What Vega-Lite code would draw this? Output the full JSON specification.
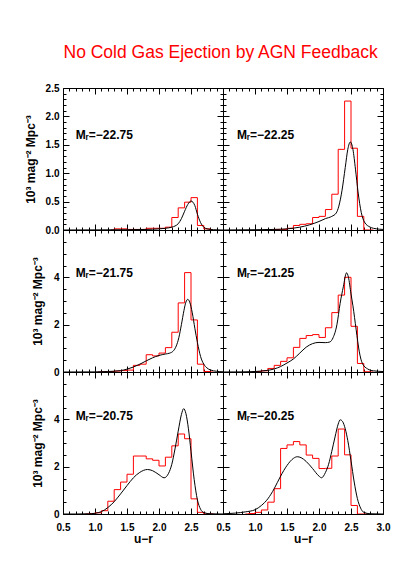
{
"$schema":"https://vega.github.io/schema/vega-lite/v6.json",
"autosize":{"type":"pad"},
"padding":{"left":23,"top":44,"right":5,"bottom":5},
"title":{"text":"No Cold Gas Ejection by AGN Feedback","color":"#ff0000","font":"Liberation Sans","fontSize":17.5,"fontWeight":"normal","anchor":"start","frame":"bounds","dx":40,"baseline":"alphabetic","offset":7},
"datasets":{
"h":[
{"p":1,"x":1.25,"y":0},{"p":1,"x":1.35,"y":0.02},{"p":1,"x":1.45,"y":0.02},{"p":1,"x":1.55,"y":0.01},{"p":1,"x":1.65,"y":0.01},{"p":1,"x":1.75,"y":0.01},{"p":1,"x":1.85,"y":0.03},{"p":1,"x":1.95,"y":0.03},{"p":1,"x":2.05,"y":0.03},{"p":1,"x":2.15,"y":0.05},{"p":1,"x":2.25,"y":0.22},{"p":1,"x":2.35,"y":0.39},{"p":1,"x":2.45,"y":0.49},{"p":1,"x":2.55,"y":0.57},{"p":1,"x":2.65,"y":0.08},{"p":1,"x":2.75,"y":0.02},{"p":1,"x":2.85,"y":0},
{"p":2,"x":1.15,"y":0},{"p":2,"x":1.25,"y":0.005},{"p":2,"x":1.35,"y":0.01},{"p":2,"x":1.45,"y":0.01},{"p":2,"x":1.55,"y":0.03},{"p":2,"x":1.65,"y":0.08},{"p":2,"x":1.75,"y":0.1},{"p":2,"x":1.85,"y":0.11},{"p":2,"x":1.95,"y":0.22},{"p":2,"x":2.05,"y":0.24},{"p":2,"x":2.15,"y":0.36},{"p":2,"x":2.25,"y":0.63},{"p":2,"x":2.35,"y":1.42},{"p":2,"x":2.45,"y":2.27},{"p":2,"x":2.55,"y":1.44},{"p":2,"x":2.65,"y":0.24},{"p":2,"x":2.75,"y":0},{"p":2,"x":2.85,"y":0},
{"p":3,"x":1.05,"y":0},{"p":3,"x":1.15,"y":0.01},{"p":3,"x":1.25,"y":0.02},{"p":3,"x":1.35,"y":0.04},{"p":3,"x":1.45,"y":0.06},{"p":3,"x":1.55,"y":0.08},{"p":3,"x":1.65,"y":0.28},{"p":3,"x":1.75,"y":0.33},{"p":3,"x":1.85,"y":0.73},{"p":3,"x":1.95,"y":0.68},{"p":3,"x":2.05,"y":0.8},{"p":3,"x":2.15,"y":1.03},{"p":3,"x":2.25,"y":1.68},{"p":3,"x":2.35,"y":2.92},{"p":3,"x":2.45,"y":4.2},{"p":3,"x":2.55,"y":2.2},{"p":3,"x":2.65,"y":0.33},{"p":3,"x":2.75,"y":0.02},{"p":3,"x":2.85,"y":0},
{"p":4,"x":0.95,"y":0},{"p":4,"x":1.05,"y":0.02},{"p":4,"x":1.15,"y":0.05},{"p":4,"x":1.25,"y":0.15},{"p":4,"x":1.35,"y":0.28},{"p":4,"x":1.45,"y":0.45},{"p":4,"x":1.55,"y":0.6},{"p":4,"x":1.65,"y":1.04},{"p":4,"x":1.75,"y":1.42},{"p":4,"x":1.85,"y":1.54},{"p":4,"x":1.95,"y":1.58},{"p":4,"x":2.05,"y":1.46},{"p":4,"x":2.15,"y":1.87},{"p":4,"x":2.25,"y":2.51},{"p":4,"x":2.35,"y":3.25},{"p":4,"x":2.45,"y":4.0},{"p":4,"x":2.55,"y":1.93},{"p":4,"x":2.65,"y":0.36},{"p":4,"x":2.75,"y":0.01},{"p":4,"x":2.85,"y":0},
{"p":5,"x":0.85,"y":0},{"p":5,"x":0.95,"y":0.02},{"p":5,"x":1.05,"y":0.05},{"p":5,"x":1.15,"y":0.14},{"p":5,"x":1.25,"y":0.54},{"p":5,"x":1.35,"y":1.03},{"p":5,"x":1.45,"y":1.35},{"p":5,"x":1.55,"y":1.68},{"p":5,"x":1.65,"y":2.45},{"p":5,"x":1.75,"y":2.45},{"p":5,"x":1.85,"y":2.33},{"p":5,"x":1.95,"y":2.27},{"p":5,"x":2.05,"y":2.03},{"p":5,"x":2.15,"y":2.4},{"p":5,"x":2.25,"y":2.88},{"p":5,"x":2.35,"y":3.38},{"p":5,"x":2.45,"y":3.18},{"p":5,"x":2.55,"y":0.64},{"p":5,"x":2.65,"y":0.07},{"p":5,"x":2.75,"y":0},{"p":5,"x":2.85,"y":0},
{"p":6,"x":0.85,"y":0},{"p":6,"x":0.95,"y":0.02},{"p":6,"x":1.05,"y":0.07},{"p":6,"x":1.15,"y":0.17},{"p":6,"x":1.25,"y":0.5},{"p":6,"x":1.35,"y":1.07},{"p":6,"x":1.45,"y":2.77},{"p":6,"x":1.55,"y":2.92},{"p":6,"x":1.65,"y":3.06},{"p":6,"x":1.75,"y":2.92},{"p":6,"x":1.85,"y":2.49},{"p":6,"x":1.95,"y":2.35},{"p":6,"x":2.05,"y":1.92},{"p":6,"x":2.15,"y":1.93},{"p":6,"x":2.25,"y":2.45},{"p":6,"x":2.35,"y":3.59},{"p":6,"x":2.45,"y":2.5},{"p":6,"x":2.55,"y":0.36},{"p":6,"x":2.65,"y":0},{"p":6,"x":2.75,"y":0}
],
"m":[
{"p":1,"x":0.5,"y":0},{"p":1,"x":1.0,"y":0.002},{"p":1,"x":1.5,"y":0.005},{"p":1,"x":1.8,"y":0.01},{"p":1,"x":2.0,"y":0.02},{"p":1,"x":2.1,"y":0.03},{"p":1,"x":2.2,"y":0.05},{"p":1,"x":2.25,"y":0.07},{"p":1,"x":2.3,"y":0.11},{"p":1,"x":2.35,"y":0.2},{"p":1,"x":2.4,"y":0.33},{"p":1,"x":2.45,"y":0.45},{"p":1,"x":2.5,"y":0.51},{"p":1,"x":2.53,"y":0.49},{"p":1,"x":2.56,"y":0.43},{"p":1,"x":2.6,"y":0.28},{"p":1,"x":2.65,"y":0.13},{"p":1,"x":2.7,"y":0.05},{"p":1,"x":2.75,"y":0.02},{"p":1,"x":2.85,"y":0.005},{"p":1,"x":3.0,"y":0},
{"p":2,"x":0.5,"y":0},{"p":2,"x":1.0,"y":0.005},{"p":2,"x":1.3,"y":0.01},{"p":2,"x":1.5,"y":0.02},{"p":2,"x":1.7,"y":0.05},{"p":2,"x":1.85,"y":0.09},{"p":2,"x":2.0,"y":0.15},{"p":2,"x":2.1,"y":0.2},{"p":2,"x":2.2,"y":0.24},{"p":2,"x":2.27,"y":0.3},{"p":2,"x":2.31,"y":0.42},{"p":2,"x":2.36,"y":0.7},{"p":2,"x":2.41,"y":1.1},{"p":2,"x":2.45,"y":1.42},{"p":2,"x":2.49,"y":1.55},{"p":2,"x":2.53,"y":1.42},{"p":2,"x":2.57,"y":1.07},{"p":2,"x":2.61,"y":0.67},{"p":2,"x":2.66,"y":0.31},{"p":2,"x":2.71,"y":0.14},{"p":2,"x":2.8,"y":0.05},{"p":2,"x":2.9,"y":0.02},{"p":2,"x":3.0,"y":0.01},
{"p":3,"x":0.5,"y":0},{"p":3,"x":1.0,"y":0.005},{"p":3,"x":1.2,"y":0.02},{"p":3,"x":1.4,"y":0.06},{"p":3,"x":1.5,"y":0.12},{"p":3,"x":1.6,"y":0.21},{"p":3,"x":1.7,"y":0.33},{"p":3,"x":1.8,"y":0.47},{"p":3,"x":1.9,"y":0.6},{"p":3,"x":2.0,"y":0.7},{"p":3,"x":2.1,"y":0.76},{"p":3,"x":2.17,"y":0.8},{"p":3,"x":2.22,"y":0.88},{"p":3,"x":2.27,"y":1.1},{"p":3,"x":2.31,"y":1.45},{"p":3,"x":2.35,"y":2.0},{"p":3,"x":2.39,"y":2.6},{"p":3,"x":2.42,"y":2.95},{"p":3,"x":2.45,"y":3.07},{"p":3,"x":2.48,"y":2.95},{"p":3,"x":2.52,"y":2.5},{"p":3,"x":2.56,"y":1.85},{"p":3,"x":2.6,"y":1.25},{"p":3,"x":2.65,"y":0.65},{"p":3,"x":2.7,"y":0.33},{"p":3,"x":2.75,"y":0.17},{"p":3,"x":2.8,"y":0.09},{"p":3,"x":2.9,"y":0.03},{"p":3,"x":3.0,"y":0.01},
{"p":4,"x":0.5,"y":0},{"p":4,"x":0.8,"y":0.005},{"p":4,"x":1.0,"y":0.02},{"p":4,"x":1.1,"y":0.04},{"p":4,"x":1.2,"y":0.07},{"p":4,"x":1.3,"y":0.13},{"p":4,"x":1.4,"y":0.23},{"p":4,"x":1.5,"y":0.38},{"p":4,"x":1.6,"y":0.55},{"p":4,"x":1.7,"y":0.8},{"p":4,"x":1.8,"y":1.05},{"p":4,"x":1.9,"y":1.2},{"p":4,"x":2.0,"y":1.25},{"p":4,"x":2.1,"y":1.24},{"p":4,"x":2.17,"y":1.27},{"p":4,"x":2.22,"y":1.45},{"p":4,"x":2.28,"y":2.0},{"p":4,"x":2.33,"y":2.9},{"p":4,"x":2.38,"y":3.6},{"p":4,"x":2.43,"y":4.19},{"p":4,"x":2.46,"y":4.0},{"p":4,"x":2.5,"y":3.3},{"p":4,"x":2.53,"y":2.8},{"p":4,"x":2.58,"y":1.8},{"p":4,"x":2.63,"y":0.85},{"p":4,"x":2.68,"y":0.35},{"p":4,"x":2.76,"y":0.13},{"p":4,"x":2.85,"y":0.05},{"p":4,"x":3.0,"y":0.02},
{"p":5,"x":0.5,"y":0},{"p":5,"x":0.7,"y":0},{"p":5,"x":0.9,"y":0.01},{"p":5,"x":1.0,"y":0.03},{"p":5,"x":1.1,"y":0.1},{"p":5,"x":1.2,"y":0.27},{"p":5,"x":1.3,"y":0.52},{"p":5,"x":1.4,"y":0.85},{"p":5,"x":1.5,"y":1.2},{"p":5,"x":1.6,"y":1.53},{"p":5,"x":1.7,"y":1.76},{"p":5,"x":1.82,"y":1.88},{"p":5,"x":1.9,"y":1.83},{"p":5,"x":2.0,"y":1.66},{"p":5,"x":2.08,"y":1.53},{"p":5,"x":2.15,"y":1.72},{"p":5,"x":2.2,"y":2.1},{"p":5,"x":2.25,"y":2.75},{"p":5,"x":2.3,"y":3.5},{"p":5,"x":2.35,"y":4.2},{"p":5,"x":2.385,"y":4.45},{"p":5,"x":2.42,"y":4.25},{"p":5,"x":2.46,"y":3.6},{"p":5,"x":2.5,"y":2.65},{"p":5,"x":2.55,"y":1.45},{"p":5,"x":2.6,"y":0.6},{"p":5,"x":2.65,"y":0.2},{"p":5,"x":2.7,"y":0.06},{"p":5,"x":2.8,"y":0.01},{"p":5,"x":3.0,"y":0},
{"p":6,"x":0.5,"y":0.01},{"p":6,"x":0.7,"y":0.04},{"p":6,"x":0.85,"y":0.09},{"p":6,"x":1.0,"y":0.18},{"p":6,"x":1.1,"y":0.36},{"p":6,"x":1.2,"y":0.64},{"p":6,"x":1.3,"y":1.07},{"p":6,"x":1.4,"y":1.6},{"p":6,"x":1.5,"y":2.05},{"p":6,"x":1.6,"y":2.35},{"p":6,"x":1.66,"y":2.42},{"p":6,"x":1.72,"y":2.38},{"p":6,"x":1.8,"y":2.22},{"p":6,"x":1.9,"y":1.92},{"p":6,"x":2.0,"y":1.6},{"p":6,"x":2.04,"y":1.53},{"p":6,"x":2.1,"y":1.75},{"p":6,"x":2.15,"y":2.1},{"p":6,"x":2.2,"y":2.65},{"p":6,"x":2.25,"y":3.25},{"p":6,"x":2.3,"y":3.8},{"p":6,"x":2.33,"y":3.98},{"p":6,"x":2.37,"y":3.9},{"p":6,"x":2.41,"y":3.6},{"p":6,"x":2.45,"y":3.1},{"p":6,"x":2.5,"y":2.25},{"p":6,"x":2.55,"y":1.35},{"p":6,"x":2.6,"y":0.65},{"p":6,"x":2.65,"y":0.25},{"p":6,"x":2.7,"y":0.07},{"p":6,"x":2.8,"y":0.01},{"p":6,"x":3.0,"y":0}
],
"l":[
{"p":1,"x":0.7,"y":1.67,"t":"Mᵣ=−22.75"},{"p":2,"x":0.72,"y":1.67,"t":"Mᵣ=−22.25"},{"p":3,"x":0.7,"y":4.17,"t":"Mᵣ=−21.75"},{"p":4,"x":0.72,"y":4.17,"t":"Mᵣ=−21.25"},{"p":5,"x":0.7,"y":4.14,"t":"Mᵣ=−20.75"},{"p":6,"x":0.72,"y":4.14,"t":"Mᵣ=−20.25"}
]
},
"columns":2,
"spacing":0,
"bounds":"flush",
"concat":[
{"width":160,"height":142,"layer":[
 {"data":{"name":"h"},"transform":[{"filter":"datum.p==1"}],"mark":{"type":"line","interpolate":"step","color":"#ff0000","strokeWidth":1,"clip":true},
  "encoding":{"x":{"field":"x","type":"quantitative","scale":{"domain":[0.5,3.0],"nice":false,"zero":false},"axis":{"orient":"bottom","values":[0.5,0.6,0.7,0.8,0.9,1.0,1.1,1.2,1.3,1.4,1.5,1.6,1.7,1.8,1.9,2.0,2.1,2.2,2.3,2.4,2.5,2.6,2.7,2.8,2.9,3.0],"tickSize":{"condition":{"test":"abs(round(datum.value*10))%5==0","value":-6},"value":-3},"labels":false,"title":null}},
   "y":{"field":"y","type":"quantitative","scale":{"domain":[0,2.5],"nice":false,"zero":false},"axis":{"orient":"left","values":[0,0.1,0.2,0.3,0.4,0.5,0.6,0.7,0.8,0.9,1.0,1.1,1.2,1.3,1.4,1.5,1.6,1.7,1.8,1.9,2.0,2.1,2.2,2.3,2.4,2.5],"tickSize":{"condition":{"test":"abs(round(datum.value*10))%5==0","value":-6},"value":-3},"labelExpr":"abs(round(datum.value*10))%5==0 ? format(datum.value,'.1f') : ''","labelPadding":10,"minExtent":18,"maxExtent":18,"title":"10³ mag⁻² Mpc⁻³","titlePadding":8}}}},
 {"data":{"name":"m"},"transform":[{"filter":"datum.p==1"}],"mark":{"type":"line","interpolate":"monotone","color":"black","strokeWidth":1,"clip":true},
  "encoding":{"x":{"field":"x","type":"quantitative","axis":{"orient":"top","values":[0.5,0.6,0.7,0.8,0.9,1.0,1.1,1.2,1.3,1.4,1.5,1.6,1.7,1.8,1.9,2.0,2.1,2.2,2.3,2.4,2.5,2.6,2.7,2.8,2.9,3.0],"tickSize":{"condition":{"test":"abs(round(datum.value*10))%5==0","value":-6},"value":-3},"labels":false,"title":null}},
   "y":{"field":"y","type":"quantitative","axis":{"orient":"right","values":[0,0.1,0.2,0.3,0.4,0.5,0.6,0.7,0.8,0.9,1.0,1.1,1.2,1.3,1.4,1.5,1.6,1.7,1.8,1.9,2.0,2.1,2.2,2.3,2.4,2.5],"tickSize":{"condition":{"test":"abs(round(datum.value*10))%5==0","value":-6},"value":-3},"labels":false,"title":null}}}},
 {"data":{"name":"l"},"transform":[{"filter":"datum.p==1"}],"mark":{"type":"text","align":"left","baseline":"middle","font":"Liberation Sans","fontWeight":"bold","fontSize":12,"color":"black"},
  "encoding":{"x":{"field":"x","type":"quantitative","axis":null},"y":{"field":"y","type":"quantitative","axis":null},"text":{"field":"t"}}}
],"resolve":{"axis":{"x":"independent","y":"independent"}}},
{"width":160,"height":142,"layer":[
 {"data":{"name":"h"},"transform":[{"filter":"datum.p==2"}],"mark":{"type":"line","interpolate":"step","color":"#ff0000","strokeWidth":1,"clip":true},
  "encoding":{"x":{"field":"x","type":"quantitative","scale":{"domain":[0.5,3.0],"nice":false,"zero":false},"axis":{"orient":"bottom","values":[0.5,0.6,0.7,0.8,0.9,1.0,1.1,1.2,1.3,1.4,1.5,1.6,1.7,1.8,1.9,2.0,2.1,2.2,2.3,2.4,2.5,2.6,2.7,2.8,2.9,3.0],"tickSize":{"condition":{"test":"abs(round(datum.value*10))%5==0","value":-6},"value":-3},"labels":false,"title":null}},
   "y":{"field":"y","type":"quantitative","scale":{"domain":[0,2.5],"nice":false,"zero":false},"axis":{"orient":"left","values":[0,0.1,0.2,0.3,0.4,0.5,0.6,0.7,0.8,0.9,1.0,1.1,1.2,1.3,1.4,1.5,1.6,1.7,1.8,1.9,2.0,2.1,2.2,2.3,2.4,2.5],"tickSize":{"condition":{"test":"abs(round(datum.value*10))%5==0","value":-6},"value":-3},"labels":false,"title":null}}}},
 {"data":{"name":"m"},"transform":[{"filter":"datum.p==2"}],"mark":{"type":"line","interpolate":"monotone","color":"black","strokeWidth":1,"clip":true},
  "encoding":{"x":{"field":"x","type":"quantitative","axis":{"orient":"top","values":[0.5,0.6,0.7,0.8,0.9,1.0,1.1,1.2,1.3,1.4,1.5,1.6,1.7,1.8,1.9,2.0,2.1,2.2,2.3,2.4,2.5,2.6,2.7,2.8,2.9,3.0],"tickSize":{"condition":{"test":"abs(round(datum.value*10))%5==0","value":-6},"value":-3},"labels":false,"title":null}},
   "y":{"field":"y","type":"quantitative","axis":{"orient":"right","values":[0,0.1,0.2,0.3,0.4,0.5,0.6,0.7,0.8,0.9,1.0,1.1,1.2,1.3,1.4,1.5,1.6,1.7,1.8,1.9,2.0,2.1,2.2,2.3,2.4,2.5],"tickSize":{"condition":{"test":"abs(round(datum.value*10))%5==0","value":-6},"value":-3},"labels":false,"title":null}}}},
 {"data":{"name":"l"},"transform":[{"filter":"datum.p==2"}],"mark":{"type":"text","align":"left","baseline":"middle","font":"Liberation Sans","fontWeight":"bold","fontSize":12,"color":"black"},
  "encoding":{"x":{"field":"x","type":"quantitative","axis":null},"y":{"field":"y","type":"quantitative","axis":null},"text":{"field":"t"}}}
],"resolve":{"axis":{"x":"independent","y":"independent"}}},
{"width":160,"height":142,"layer":[
 {"data":{"name":"h"},"transform":[{"filter":"datum.p==3"}],"mark":{"type":"line","interpolate":"step","color":"#ff0000","strokeWidth":1,"clip":true},
  "encoding":{"x":{"field":"x","type":"quantitative","scale":{"domain":[0.5,3.0],"nice":false,"zero":false},"axis":{"orient":"bottom","values":[0.5,0.6,0.7,0.8,0.9,1.0,1.1,1.2,1.3,1.4,1.5,1.6,1.7,1.8,1.9,2.0,2.1,2.2,2.3,2.4,2.5,2.6,2.7,2.8,2.9,3.0],"tickSize":{"condition":{"test":"abs(round(datum.value*10))%5==0","value":-6},"value":-3},"labels":false,"title":null}},
   "y":{"field":"y","type":"quantitative","scale":{"domain":[0,6],"nice":false,"zero":false},"axis":{"orient":"left","values":[0,0.5,1,1.5,2,2.5,3,3.5,4,4.5,5,5.5,6],"tickSize":{"condition":{"test":"abs(round(datum.value*2))%4==0","value":-6},"value":-3},"labelExpr":"abs(round(datum.value*2))%4==0 && datum.value<5 ? format(datum.value,'d') : ''","labelPadding":10,"minExtent":10,"maxExtent":10,"title":"10³ mag⁻² Mpc⁻³","titlePadding":9}}}},
 {"data":{"name":"m"},"transform":[{"filter":"datum.p==3"}],"mark":{"type":"line","interpolate":"monotone","color":"black","strokeWidth":1,"clip":true},
  "encoding":{"x":{"field":"x","type":"quantitative","axis":{"orient":"top","values":[0.5,0.6,0.7,0.8,0.9,1.0,1.1,1.2,1.3,1.4,1.5,1.6,1.7,1.8,1.9,2.0,2.1,2.2,2.3,2.4,2.5,2.6,2.7,2.8,2.9,3.0],"tickSize":{"condition":{"test":"abs(round(datum.value*10))%5==0","value":-6},"value":-3},"labels":false,"title":null}},
   "y":{"field":"y","type":"quantitative","axis":{"orient":"right","values":[0,0.5,1,1.5,2,2.5,3,3.5,4,4.5,5,5.5,6],"tickSize":{"condition":{"test":"abs(round(datum.value*2))%4==0","value":-6},"value":-3},"labels":false,"title":null}}}},
 {"data":{"name":"l"},"transform":[{"filter":"datum.p==3"}],"mark":{"type":"text","align":"left","baseline":"middle","font":"Liberation Sans","fontWeight":"bold","fontSize":12,"color":"black"},
  "encoding":{"x":{"field":"x","type":"quantitative","axis":null},"y":{"field":"y","type":"quantitative","axis":null},"text":{"field":"t"}}}
],"resolve":{"axis":{"x":"independent","y":"independent"}}},
{"width":160,"height":142,"layer":[
 {"data":{"name":"h"},"transform":[{"filter":"datum.p==4"}],"mark":{"type":"line","interpolate":"step","color":"#ff0000","strokeWidth":1,"clip":true},
  "encoding":{"x":{"field":"x","type":"quantitative","scale":{"domain":[0.5,3.0],"nice":false,"zero":false},"axis":{"orient":"bottom","values":[0.5,0.6,0.7,0.8,0.9,1.0,1.1,1.2,1.3,1.4,1.5,1.6,1.7,1.8,1.9,2.0,2.1,2.2,2.3,2.4,2.5,2.6,2.7,2.8,2.9,3.0],"tickSize":{"condition":{"test":"abs(round(datum.value*10))%5==0","value":-6},"value":-3},"labels":false,"title":null}},
   "y":{"field":"y","type":"quantitative","scale":{"domain":[0,6],"nice":false,"zero":false},"axis":{"orient":"left","values":[0,0.5,1,1.5,2,2.5,3,3.5,4,4.5,5,5.5,6],"tickSize":{"condition":{"test":"abs(round(datum.value*2))%4==0","value":-6},"value":-3},"labels":false,"title":null}}}},
 {"data":{"name":"m"},"transform":[{"filter":"datum.p==4"}],"mark":{"type":"line","interpolate":"monotone","color":"black","strokeWidth":1,"clip":true},
  "encoding":{"x":{"field":"x","type":"quantitative","axis":{"orient":"top","values":[0.5,0.6,0.7,0.8,0.9,1.0,1.1,1.2,1.3,1.4,1.5,1.6,1.7,1.8,1.9,2.0,2.1,2.2,2.3,2.4,2.5,2.6,2.7,2.8,2.9,3.0],"tickSize":{"condition":{"test":"abs(round(datum.value*10))%5==0","value":-6},"value":-3},"labels":false,"title":null}},
   "y":{"field":"y","type":"quantitative","axis":{"orient":"right","values":[0,0.5,1,1.5,2,2.5,3,3.5,4,4.5,5,5.5,6],"tickSize":{"condition":{"test":"abs(round(datum.value*2))%4==0","value":-6},"value":-3},"labels":false,"title":null}}}},
 {"data":{"name":"l"},"transform":[{"filter":"datum.p==4"}],"mark":{"type":"text","align":"left","baseline":"middle","font":"Liberation Sans","fontWeight":"bold","fontSize":12,"color":"black"},
  "encoding":{"x":{"field":"x","type":"quantitative","axis":null},"y":{"field":"y","type":"quantitative","axis":null},"text":{"field":"t"}}}
],"resolve":{"axis":{"x":"independent","y":"independent"}}},
{"width":160,"height":142,"layer":[
 {"data":{"name":"h"},"transform":[{"filter":"datum.p==5"}],"mark":{"type":"line","interpolate":"step","color":"#ff0000","strokeWidth":1,"clip":true},
  "encoding":{"x":{"field":"x","type":"quantitative","scale":{"domain":[0.5,3.0],"nice":false,"zero":false},"axis":{"orient":"bottom","values":[0.5,0.6,0.7,0.8,0.9,1.0,1.1,1.2,1.3,1.4,1.5,1.6,1.7,1.8,1.9,2.0,2.1,2.2,2.3,2.4,2.5,2.6,2.7,2.8,2.9,3.0],"tickSize":{"condition":{"test":"abs(round(datum.value*10))%5==0","value":-6},"value":-3},"labelExpr":"abs(round(datum.value*10))%5==0 && datum.value<2.9 ? format(datum.value,'.1f') : ''","labelPadding":14,"minExtent":18,"maxExtent":18,"title":"u−r","titlePadding":1}},
   "y":{"field":"y","type":"quantitative","scale":{"domain":[0,6],"nice":false,"zero":false},"axis":{"orient":"left","values":[0,0.5,1,1.5,2,2.5,3,3.5,4,4.5,5,5.5,6],"tickSize":{"condition":{"test":"abs(round(datum.value*2))%4==0","value":-6},"value":-3},"labelExpr":"abs(round(datum.value*2))%4==0 && datum.value<5 ? format(datum.value,'d') : ''","labelPadding":10,"minExtent":10,"maxExtent":10,"title":"10³ mag⁻² Mpc⁻³","titlePadding":9}}}},
 {"data":{"name":"m"},"transform":[{"filter":"datum.p==5"}],"mark":{"type":"line","interpolate":"monotone","color":"black","strokeWidth":1,"clip":true},
  "encoding":{"x":{"field":"x","type":"quantitative","axis":{"orient":"top","values":[0.5,0.6,0.7,0.8,0.9,1.0,1.1,1.2,1.3,1.4,1.5,1.6,1.7,1.8,1.9,2.0,2.1,2.2,2.3,2.4,2.5,2.6,2.7,2.8,2.9,3.0],"tickSize":{"condition":{"test":"abs(round(datum.value*10))%5==0","value":-6},"value":-3},"labels":false,"title":null}},
   "y":{"field":"y","type":"quantitative","axis":{"orient":"right","values":[0,0.5,1,1.5,2,2.5,3,3.5,4,4.5,5,5.5,6],"tickSize":{"condition":{"test":"abs(round(datum.value*2))%4==0","value":-6},"value":-3},"labels":false,"title":null}}}},
 {"data":{"name":"l"},"transform":[{"filter":"datum.p==5"}],"mark":{"type":"text","align":"left","baseline":"middle","font":"Liberation Sans","fontWeight":"bold","fontSize":12,"color":"black"},
  "encoding":{"x":{"field":"x","type":"quantitative","axis":null},"y":{"field":"y","type":"quantitative","axis":null},"text":{"field":"t"}}}
],"resolve":{"axis":{"x":"independent","y":"independent"}}},
{"width":160,"height":142,"layer":[
 {"data":{"name":"h"},"transform":[{"filter":"datum.p==6"}],"mark":{"type":"line","interpolate":"step","color":"#ff0000","strokeWidth":1,"clip":true},
  "encoding":{"x":{"field":"x","type":"quantitative","scale":{"domain":[0.5,3.0],"nice":false,"zero":false},"axis":{"orient":"bottom","values":[0.5,0.6,0.7,0.8,0.9,1.0,1.1,1.2,1.3,1.4,1.5,1.6,1.7,1.8,1.9,2.0,2.1,2.2,2.3,2.4,2.5,2.6,2.7,2.8,2.9,3.0],"tickSize":{"condition":{"test":"abs(round(datum.value*10))%5==0","value":-6},"value":-3},"labelExpr":"abs(round(datum.value*10))%5==0 ? format(datum.value,'.1f') : ''","labelPadding":14,"minExtent":18,"maxExtent":18,"title":"u−r","titlePadding":1}},
   "y":{"field":"y","type":"quantitative","scale":{"domain":[0,6],"nice":false,"zero":false},"axis":{"orient":"left","values":[0,0.5,1,1.5,2,2.5,3,3.5,4,4.5,5,5.5,6],"tickSize":{"condition":{"test":"abs(round(datum.value*2))%4==0","value":-6},"value":-3},"labels":false,"title":null}}}},
 {"data":{"name":"m"},"transform":[{"filter":"datum.p==6"}],"mark":{"type":"line","interpolate":"monotone","color":"black","strokeWidth":1,"clip":true},
  "encoding":{"x":{"field":"x","type":"quantitative","axis":{"orient":"top","values":[0.5,0.6,0.7,0.8,0.9,1.0,1.1,1.2,1.3,1.4,1.5,1.6,1.7,1.8,1.9,2.0,2.1,2.2,2.3,2.4,2.5,2.6,2.7,2.8,2.9,3.0],"tickSize":{"condition":{"test":"abs(round(datum.value*10))%5==0","value":-6},"value":-3},"labels":false,"title":null}},
   "y":{"field":"y","type":"quantitative","axis":{"orient":"right","values":[0,0.5,1,1.5,2,2.5,3,3.5,4,4.5,5,5.5,6],"tickSize":{"condition":{"test":"abs(round(datum.value*2))%4==0","value":-6},"value":-3},"labels":false,"title":null}}}},
 {"data":{"name":"l"},"transform":[{"filter":"datum.p==6"}],"mark":{"type":"text","align":"left","baseline":"middle","font":"Liberation Sans","fontWeight":"bold","fontSize":12,"color":"black"},
  "encoding":{"x":{"field":"x","type":"quantitative","axis":null},"y":{"field":"y","type":"quantitative","axis":null},"text":{"field":"t"}}}
],"resolve":{"axis":{"x":"independent","y":"independent"}}}
],
"config":{
 "view":{"stroke":"black","strokeWidth":1},
 "axis":{"domain":false,"grid":false,"tickColor":"black","tickWidth":1,"labelFont":"Liberation Sans","labelFontSize":10,"labelFontWeight":"bold","labelColor":"black","titleFont":"Liberation Sans","titleFontWeight":"bold","titleFontSize":12,"titleColor":"black","labelFlush":false,"labelOverlap":false}
}
}
